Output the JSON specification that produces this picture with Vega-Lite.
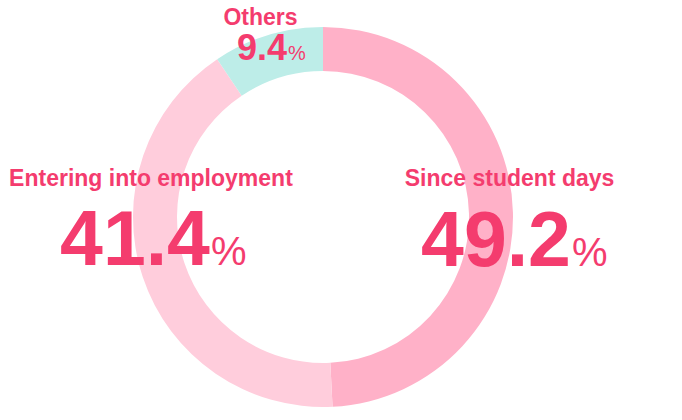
{
  "$schema": "https://vega.github.io/schema/vega-lite/v6.json",
  "autosize": "none",
  "width": 646,
  "height": 406,
  "padding": {"left": 0, "top": 14, "right": 36, "bottom": 0},
  "background": "white",
  "view": {"stroke": null},
  "data": {
    "values": [
      {"category": "Since student days", "value": 49.2, "order": 1},
      {"category": "Entering into employment", "value": 41.4, "order": 2},
      {"category": "Others", "value": 9.4, "order": 3}
    ]
  },
  "encoding": {
    "theta": {"field": "value", "type": "quantitative", "stack": true},
    "order": {"field": "order", "type": "quantitative"}
  },
  "layer": [
    {
      "mark": {"type": "arc", "innerRadius": 146, "outerRadius": 190},
      "encoding": {
        "color": {
          "field": "category",
          "type": "nominal",
          "scale": {
            "domain": ["Since student days", "Entering into employment", "Others"],
            "range": ["#FFB1C8", "#FFCDDC", "#BDEDE8"]
          },
          "legend": null
        }
      }
    },
    {
      "mark": {"type": "text", "font": "Liberation Sans", "fontWeight": "bold", "fontSize": 23, "color": "#F43C6E", "align": "center", "baseline": "alphabetic", "dx": 18.6, "dy": -26.8},
      "encoding": {"radius": {"value": 168}, "text": {"condition": {"test": "datum.category === 'Since student days'", "field": "category"}, "value": ""}}
    },
    {
      "mark": {"type": "text", "font": "Liberation Sans", "fontWeight": "bold", "fontSize": 77, "color": "#F43C6E", "align": "right", "baseline": "alphabetic", "dx": 80, "dy": 53.2},
      "encoding": {"radius": {"value": 168}, "text": {"condition": {"test": "datum.category === 'Since student days'", "field": "value", "type": "quantitative", "format": ".1f"}, "value": ""}}
    },
    {
      "mark": {"type": "text", "font": "Liberation Sans", "fontWeight": "normal", "fontSize": 40, "color": "#F43C6E", "align": "left", "baseline": "alphabetic", "dx": 81, "dy": 53.2},
      "encoding": {"radius": {"value": 168}, "text": {"condition": {"test": "datum.category === 'Since student days'", "value": "%"}, "value": ""}}
    },
    {
      "mark": {"type": "text", "font": "Liberation Sans", "fontWeight": "bold", "fontSize": 23, "color": "#F43C6E", "align": "center", "baseline": "alphabetic", "dx": -12.6, "dy": -83.9},
      "encoding": {"radius": {"value": 168}, "text": {"condition": {"test": "datum.category === 'Entering into employment'", "field": "category"}, "value": ""}}
    },
    {
      "mark": {"type": "text", "font": "Liberation Sans", "fontWeight": "bold", "fontSize": 77, "color": "#F43C6E", "align": "right", "baseline": "alphabetic", "dx": 46.4, "dy": -4.9},
      "encoding": {"radius": {"value": 168}, "text": {"condition": {"test": "datum.category === 'Entering into employment'", "field": "value", "type": "quantitative", "format": ".1f"}, "value": ""}}
    },
    {
      "mark": {"type": "text", "font": "Liberation Sans", "fontWeight": "normal", "fontSize": 40, "color": "#F43C6E", "align": "left", "baseline": "alphabetic", "dx": 47.4, "dy": -4.9},
      "encoding": {"radius": {"value": 168}, "text": {"condition": {"test": "datum.category === 'Entering into employment'", "value": "%"}, "value": ""}}
    },
    {
      "mark": {"type": "text", "font": "Liberation Sans", "fontWeight": "bold", "fontSize": 23, "color": "#F43C6E", "align": "center", "baseline": "alphabetic", "dx": -13.6, "dy": -31.2},
      "encoding": {"radius": {"value": 168}, "text": {"condition": {"test": "datum.category === 'Others'", "field": "category"}, "value": ""}}
    },
    {
      "mark": {"type": "text", "font": "Liberation Sans", "fontWeight": "bold", "fontSize": 36, "color": "#F43C6E", "align": "right", "baseline": "alphabetic", "dx": 12.9, "dy": 3.8},
      "encoding": {"radius": {"value": 168}, "text": {"condition": {"test": "datum.category === 'Others'", "field": "value", "type": "quantitative", "format": ".1f"}, "value": ""}}
    },
    {
      "mark": {"type": "text", "font": "Liberation Sans", "fontWeight": "normal", "fontSize": 20, "color": "#F43C6E", "align": "left", "baseline": "alphabetic", "dx": 14, "dy": 3.8},
      "encoding": {"radius": {"value": 168}, "text": {"condition": {"test": "datum.category === 'Others'", "value": "%"}, "value": ""}}
    }
  ]
}
